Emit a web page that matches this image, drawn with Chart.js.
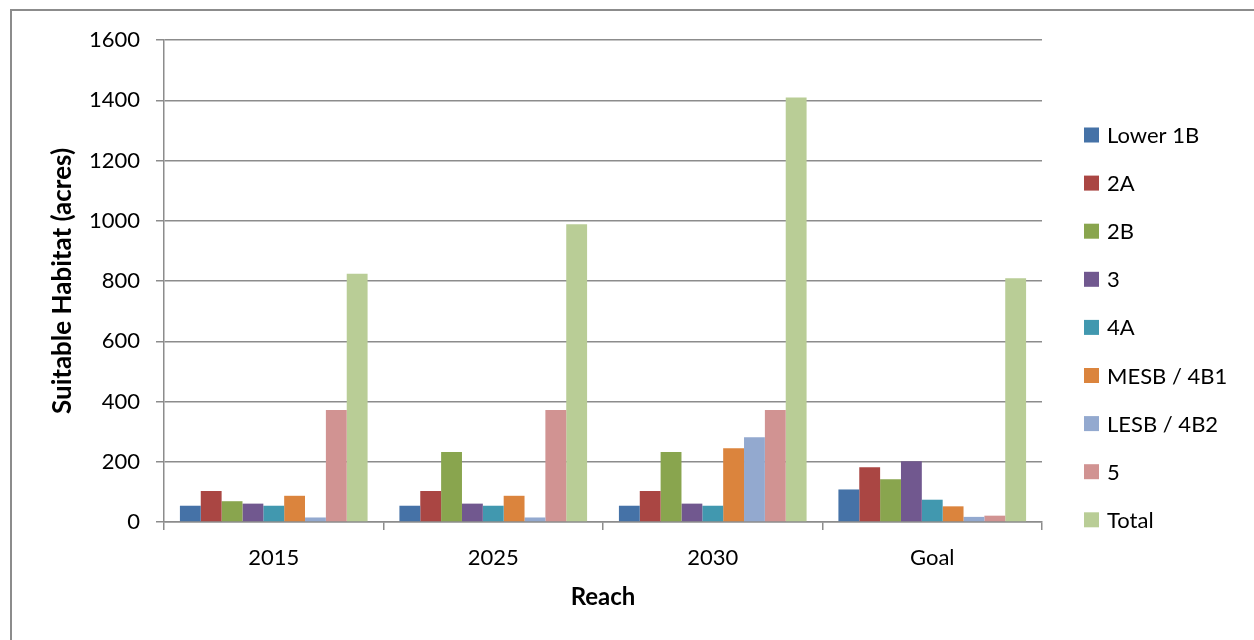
<!DOCTYPE html>
<html>
<head>
<meta charset="utf-8">
<script src="https://cdn.jsdelivr.net/npm/chart.js@4.4.1/dist/chart.umd.min.js"></script>
<style>
  html, body { margin: 0; padding: 0; background: #fff; overflow: hidden; }
  #wrap { position: relative; width: 1254px; height: 640px; }
  #frame { position: absolute; left: 10px; top: 9px; width: 1400px; height: 800px;
           border: 2px solid #8c8c8c; box-sizing: border-box; pointer-events: none; }
  canvas { position: absolute; left: 0; top: 0; }
</style>
</head>
<body>
<div id="wrap">
  <canvas id="chart" width="1254" height="640"></canvas>
  <div id="frame"></div>
</div>
<script>
// ---- data ----
const reaches = ['2015', '2025', '2030', 'Goal'];
const seriesNames = ['Lower 1B', '2A', '2B', '3', '4A', 'MESB / 4B1', 'LESB / 4B2', '5', 'Total'];
const lower1B = [54, 54, 54, 108];
const reach2A = [103, 103, 103, 182];
const reach2B = [69, 232, 232, 142];
const reach3 = [61, 61, 61, 202];
const reach4A = [54, 54, 54, 74];
const mesb4B1 = [87, 87, 245, 52];
const lesb4B2 = [15, 15, 281, 17];
const reach5 = [372, 372, 372, 21];
const totals = [824, 988, 1409, 809];
const yTicks = [0, 200, 400, 600, 800, 1000, 1200, 1400, 1600];

const seriesValues = [lower1B, reach2A, reach2B, reach3, reach4A, mesb4B1, lesb4B2, reach5, totals];
const colors = ['#4572A7', '#AA4643', '#89A54E', '#71588F', '#4198AF', '#DB843D', '#93A9CF', '#D19392', '#B9CD96'];

const FONT = 'Lato, "Open Sans", sans-serif';
const gridColor = '#8c8c8c';

// legend drawn at the right, Excel style
const sideLegend = {
    id: 'sideLegend',
    afterDraw(chart) {
        const ctx = chart.ctx;
        ctx.save();
        ctx.font = '22px ' + FONT;
        ctx.textBaseline = 'middle';
        ctx.textAlign = 'left';
        chart.data.datasets.forEach((ds, i) => {
            const cy = 135 + i * 48.1;
            ctx.fillStyle = ds.backgroundColor;
            ctx.fillRect(1084, cy - 7.5, 15, 15);
            ctx.fillStyle = '#000';
            ctx.fillText(ds.label, 1107, cy + 1);
        });
        ctx.restore();
    }
};

new Chart(document.getElementById('chart'), {
    type: 'bar',
    data: {
        labels: reaches,
        datasets: seriesNames.map((name, i) => ({
            label: name,
            data: seriesValues[i],
            backgroundColor: colors[i],
            borderWidth: 0,
            categoryPercentage: 0.855,
            barPercentage: 1.0
        }))
    },
    options: {
        responsive: false,
        animation: false,
        devicePixelRatio: 1,
        layout: { padding: { top: 40, right: 212, bottom: 0, left: 0 } },
        plugins: {
            legend: { display: false },
            tooltip: { enabled: false }
        },
        scales: {
            x: {
                offset: true,
                afterFit: (scale) => { scale.height = 118; },
                grid: {
                    offset: true,
                    drawOnChartArea: false,
                    drawTicks: true,
                    tickLength: 8,
                    color: gridColor,
                    lineWidth: 1.5
                },
                border: { display: true, color: gridColor, width: 1.5 },
                ticks: {
                    color: '#000',
                    padding: 15,
                    font: { family: FONT, size: 22 }
                },
                title: {
                    display: true,
                    text: 'Reach',
                    color: '#000',
                    font: { family: FONT, size: 24, weight: 'bold' },
                    padding: { top: 0, bottom: 28 }
                }
            },
            y: {
                min: 0,
                max: 1600,
                afterFit: (scale) => { scale.width = 164; },
                afterBuildTicks: (scale) => { scale.ticks = yTicks.map(v => ({ value: v })); },
                grid: {
                    color: gridColor,
                    lineWidth: 1.5,
                    drawTicks: true,
                    tickLength: 8
                },
                border: { display: true, color: gridColor, width: 1.5 },
                ticks: {
                    color: '#000',
                    padding: 16,
                    font: { family: FONT, size: 22 },
                    callback: (v) => String(v)
                },
                title: {
                    display: true,
                    text: 'Suitable Habitat (acres)',
                    color: '#000',
                    font: { family: FONT, size: 26, weight: 'bold' },
                    padding: { top: 47, bottom: 0 }
                }
            }
        }
    },
    plugins: [sideLegend]
});
</script>
</body>
</html>
